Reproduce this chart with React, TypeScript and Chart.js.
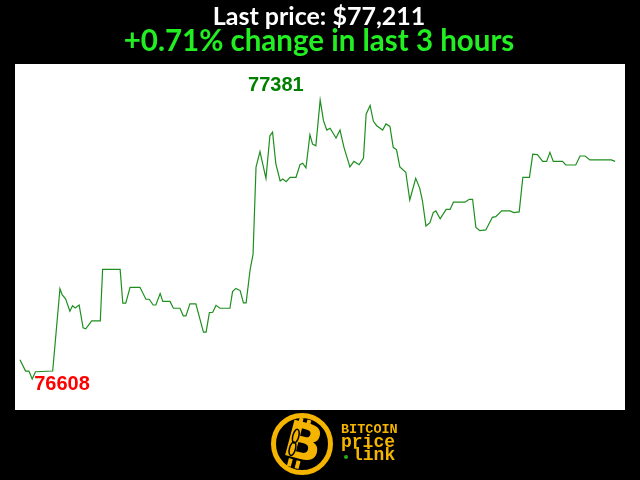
import React, { useEffect, useRef } from "react";
import { Chart, registerables } from "chart.js";

Chart.register(...registerables);

// Minutes since the start of the 3-hour window
const minutes = [
  0, 1.7, 2.7, 3.7, 4.7, 9.9, 12.1, 12.8, 13.8, 15.1, 15.9, 16.7, 17.9, 19.1, 19.9, 21.7, 24.3, 25.0,
  30.3, 31.1, 32.0, 33.3, 36.3, 38.1, 39.1, 40.3, 41.1, 42.4, 43.2, 45.4, 46.4, 48.4, 49.4, 50.2,
  51.4, 53.2, 55.5, 56.3, 57.3, 58.3, 59.3, 60.5, 63.5, 64.3, 65.3, 66.6, 67.6, 68.4, 69.6, 70.5,
  71.4, 72.6, 74.4, 75.6, 76.4, 77.4, 78.7, 79.5, 80.5, 81.7, 83.5, 84.7, 85.5, 86.5, 87.7, 88.5,
  89.5, 90.8, 91.8, 92.8, 93.8, 95.6, 96.8, 98.0, 99.8, 101.0, 102.6, 103.9, 104.7, 105.9, 106.9,
  107.9, 109.7, 110.7, 111.9, 112.9, 113.9, 114.9, 116.7, 117.9, 119.7, 120.9, 121.7, 122.8, 124.0,
  125.0, 125.8, 127.1, 128.9, 130.1, 131.1, 134.6, 135.9, 136.9, 137.9, 139.1, 140.9, 142.9, 143.9,
  145.7, 148.2, 149.4, 151.0, 152.1, 154.1, 155.1, 156.5, 158.1, 159.3, 160.3, 161.3, 164.1, 165.1,
  168.1, 169.4, 170.9, 172.4, 178.9, 180.0,
];

// BTC price in USD
const prices = [
  76661, 76630, 76630, 76608, 76628, 76630, 76858, 76841, 76830, 76796, 76811, 76805, 76813, 76750,
  76747, 76769, 76769, 76912, 76912, 76818, 76818, 76862, 76862, 76829, 76829, 76813, 76813, 76845,
  76823, 76823, 76804, 76804, 76783, 76783, 76816, 76816, 76738, 76738, 76792, 76793, 76812, 76804,
  76804, 76850, 76859, 76853, 76819, 76819, 76910, 76954, 77195, 77238, 77164, 77282, 77292, 77204,
  77157, 77162, 77155, 77167, 77167, 77202, 77206, 77193, 77285, 77259, 77254, 77381, 77324, 77298,
  77303, 77276, 77298, 77250, 77196, 77211, 77202, 77220, 77342, 77366, 77322, 77310, 77298, 77315,
  77308, 77250, 77243, 77196, 77181, 77104, 77164, 77137, 77104, 77032, 77041, 77069, 77074, 77052,
  77078, 77078, 77098, 77098, 77106, 77106, 77028, 77019, 77021, 77056, 77058, 77074, 77074, 77069,
  77071, 77167, 77167, 77231, 77230, 77211, 77211, 77236, 77211, 77211, 77201, 77201, 77226, 77226,
  77215, 77215, 77211,
];

const titleText = "Last price: $77,211";
const changeText = "+0.71% change in last 3 hours";
const logoLines = ["BITCOIN", "price", "link"];

const Y_MIN = 76522;
const Y_MAX = 77481;
const X_MIN = -1.5;
const X_MAX = 183;

const GOLD = "#f4b400";

function drawLogo(ctx: CanvasRenderingContext2D) {
  ctx.save();
  const cx = 302;
  const cy = 444;
  ctx.strokeStyle = GOLD;
  ctx.lineWidth = 5;
  ctx.beginPath();
  ctx.arc(cx, cy, 28.5, 0, Math.PI * 2);
  ctx.stroke();

  ctx.translate(cx, cy);
  ctx.rotate(0.26);
  ctx.fillStyle = GOLD;
  ctx.font = "bold 50px 'DejaVu Sans'";
  ctx.textAlign = "center";
  ctx.textBaseline = "middle";
  ctx.fillText("B", 1, 2);
  // bitcoin bars
  ctx.fillRect(-9, -25, 4, 8);
  ctx.fillRect(-1, -25, 4, 8);
  ctx.fillRect(-9, 17, 4, 8);
  ctx.fillRect(-1, 17, 4, 8);
  // chain link
  ctx.strokeStyle = "#000";
  ctx.lineWidth = 1.5;
  ctx.beginPath();
  ctx.ellipse(-8, -6, 3, 7, 0, 0, Math.PI * 2);
  ctx.stroke();
  ctx.beginPath();
  ctx.ellipse(-8, 7, 3, 7, 0, 0, Math.PI * 2);
  ctx.stroke();
  ctx.restore();

  ctx.save();
  ctx.fillStyle = GOLD;
  ctx.textAlign = "left";
  ctx.textBaseline = "alphabetic";
  ctx.font = "bold 13.5px 'Liberation Mono'";
  ctx.fillText(logoLines[0], 341, 433);
  ctx.font = "bold 18px 'Liberation Mono'";
  ctx.fillText(logoLines[1], 341, 447);
  ctx.fillText(logoLines[2], 352, 460);
  ctx.fillStyle = "#1db01d";
  ctx.beginPath();
  ctx.arc(346, 457, 2, 0, Math.PI * 2);
  ctx.fill();
  ctx.restore();
}

const framePlugin = {
  id: "frame",
  beforeDraw(chart: any) {
    const { ctx, chartArea: a, width, height } = chart;
    ctx.save();
    ctx.fillStyle = "#000";
    ctx.fillRect(0, 0, width, height);
    ctx.fillStyle = "#fff";
    ctx.fillRect(a.left, a.top, a.right - a.left, a.bottom - a.top);
    ctx.restore();
  },
  afterDraw(chart: any) {
    const { ctx } = chart;
    ctx.save();
    ctx.textAlign = "center";
    ctx.textBaseline = "alphabetic";
    ctx.font = "bold 25px Lato";
    ctx.fillStyle = "#ffffff";
    ctx.fillText(titleText, 319, 25);
    ctx.font = "bold 29.5px Lato";
    ctx.fillStyle = "#22ee22";
    ctx.fillText(changeText, 319, 51);

    const xs = chart.scales.x;
    const ys = chart.scales.y;
    let maxI = 0;
    let minI = 0;
    prices.forEach((p, i) => {
      if (p > prices[maxI]) maxI = i;
      if (p < prices[minI]) minI = i;
    });
    ctx.font = "bold 20px 'Liberation Sans'";
    ctx.fillStyle = "#008000";
    ctx.textAlign = "right";
    ctx.fillText(String(prices[maxI]), xs.getPixelForValue(minutes[maxI]) - 16.5, ys.getPixelForValue(prices[maxI]) - 9.3);
    ctx.fillStyle = "#ff0000";
    ctx.textAlign = "left";
    ctx.fillText(String(prices[minI]), xs.getPixelForValue(minutes[minI]) + 2, ys.getPixelForValue(prices[minI]) + 11);
    ctx.restore();

    drawLogo(ctx);
  },
};

export default function App() {
  const ref = useRef<HTMLCanvasElement | null>(null);
  useEffect(() => {
    if (!ref.current) return;
    const chart = new Chart(ref.current, {
      type: "line",
      data: {
        datasets: [
          {
            data: minutes.map((m, i) => ({ x: m, y: prices[i] })),
            borderColor: "#1e8f1e",
            borderWidth: 1.2,
            pointRadius: 0,
            tension: 0,
            fill: false,
          },
        ],
      },
      options: {
        animation: false,
        responsive: false,
        layout: { padding: { left: 15, right: 15, top: 64, bottom: 70 } },
        plugins: { legend: { display: false }, tooltip: { enabled: false } },
        scales: {
          x: { type: "linear", min: X_MIN, max: X_MAX, display: false },
          y: { min: Y_MIN, max: Y_MAX, display: false },
        },
      },
      plugins: [framePlugin],
    });
    return () => chart.destroy();
  }, []);
  return (
    <div style={{ position: "fixed", left: 0, top: 0, width: 640, height: 480, background: "#000" }}>
      <canvas ref={ref} width={640} height={480} />
    </div>
  );
}
